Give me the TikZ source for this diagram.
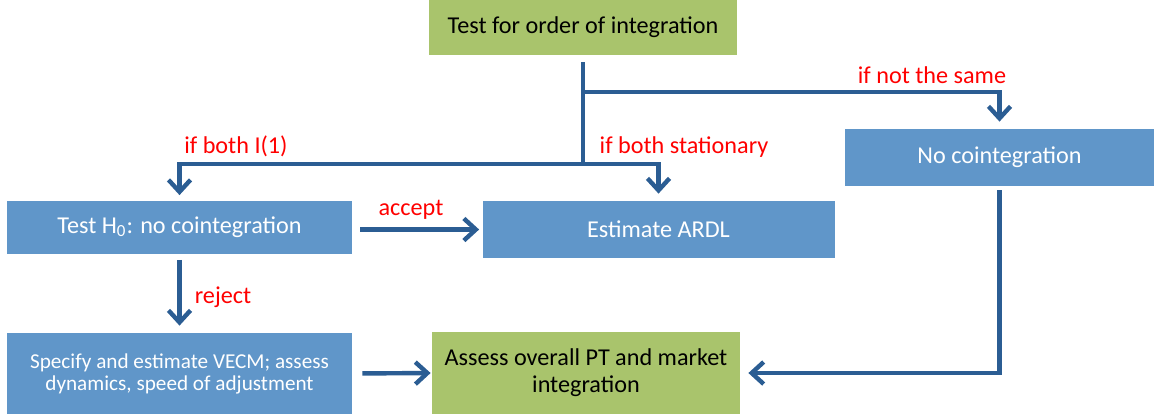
\documentclass[tikz,border=0pt]{standalone}
\usepackage{fontspec}
\setmainfont{Carlito}
\usetikzlibrary{arrows.meta}
\definecolor{boxblue}{HTML}{6096C9}
\definecolor{boxgreen}{HTML}{A9C46C}
\definecolor{linkblue}{HTML}{2B5D93}
\begin{document}
\begin{tikzpicture}[
	x=0.5pt, y=-0.5pt,
	font=\fontsize{12.1}{13.5}\selectfont,
	bluebox/.style = {fill=boxblue, text=white, align=center, inner sep=0pt},
	greenbox/.style = {fill=boxgreen, text=black, align=center, inner sep=0pt},
	link/.style = {draw=linkblue, line width=2.2pt},
	arr/.style = {link, -{Straight Barb[length=6pt, width=11pt, line width=2.2pt]}},
	cond/.style = {text=red},
	]
	\useasboundingbox (0,0) rectangle (1154,414);
	% boxes
	\node[greenbox, minimum width=154pt, minimum height=27.5pt] (order) at (583,27.5) {Test for order of integration};
	\node[bluebox, minimum width=154.5pt, minimum height=28.5pt] (nocoint) at (999.5,157.5) {No cointegration};
	\node[bluebox, minimum width=172.5pt, minimum height=26.5pt] (h0test) at (179.5,227) {Test H\textsubscript{0}: no cointegration};
	\node[bluebox, minimum width=176pt, minimum height=28.5pt] (ardl) at (658.5,229.5) {Estimate ARDL};
	\node[bluebox, minimum width=172.5pt, minimum height=40.5pt, font=\fontsize{10.6}{11}\selectfont] (vecm) at (179.5,373.5) {Specify and estimate VECM; assess\\dynamics, speed of adjustment};
	\node[greenbox, minimum width=154pt, minimum height=41pt] (assess) at (586,373) {Assess overall PT and market\\integration};
	% branch points
	\coordinate (split) at (583,92);
	\coordinate (fork) at (583,164);
	% connectors
	\draw[link, shorten <=3.5pt] (order.south) -- (fork);
	\draw[arr, shorten >=3.5pt] (split) -| (nocoint.north);
	\draw[arr, shorten >=2.5pt] (fork) -| (h0test.north);
	\draw[arr, shorten >=3.5pt] (fork) -| (ardl.north);
	\draw[arr, shorten <=4pt, shorten >=1.5pt] (h0test.east |- ardl.west) -- (ardl.west);
	\draw[arr, shorten <=3pt, shorten >=3.5pt] (h0test.south) -- (vecm.north);
	\draw[arr, shorten <=5pt, shorten >=0.5pt] (vecm.east) -- (assess.west);
	\draw[arr, shorten <=2pt, shorten >=4pt] (nocoint.south) |- (assess.east);
	% conditions
	\node[cond] (notsame) at (932,75) {if not the same};
	\node[cond] (bothi1) at (236,146) {if both I(1)};
	\node[cond] (bothstat) at (684,147) {if both stationary};
	\node[cond] (accept) at (411,210) {accept};
	\node[cond] (reject) at (223,297) {reject};
\end{tikzpicture}
\end{document}
